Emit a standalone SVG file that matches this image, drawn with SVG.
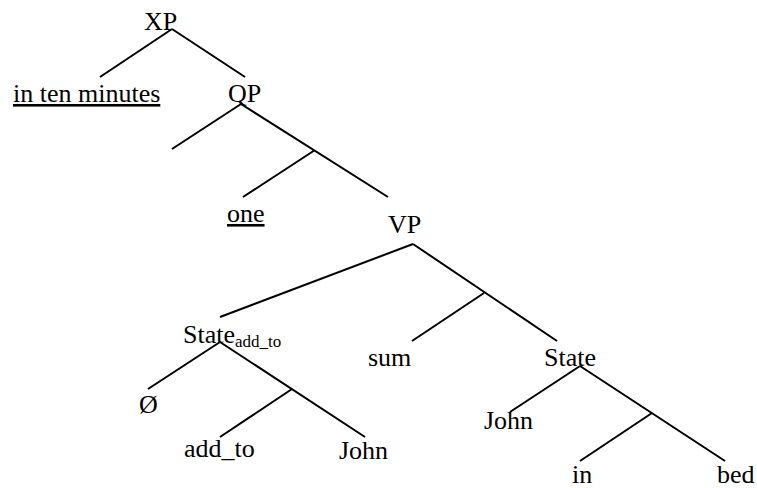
<svg xmlns="http://www.w3.org/2000/svg" width="757" height="488" viewBox="0 0 757 488">
<style>
text{font-size:26px;fill:#000}
.sub{font-size:17px}
.u{text-decoration:underline}
.e{stroke:#000;stroke-width:2;fill:none;stroke-linecap:butt}
</style>
<rect width="757" height="488" fill="#fff"/>
<g id="connectors">
<path class="e" d="M172 29L100 77M172 29L245 77"/>
<path class="e" d="M241 104L172 149M241 104L388 197M315 150L243 197"/>
<path class="e" d="M413 244L220 317M413 244L557 341M484 293L412 341"/>
<path class="e" d="M220 342L148 389M220 342L365 437M292 389L220 437"/>
<path class="e" d="M580 366L510 412M580 366L725 461M652 413L580 461"/>
</g>
<g font-family="Liberation Serif, Times New Roman, serif">
<g id="XP"><text x="144" y="30">XP</text></g>
<g id="in-ten-minutes"><text class="u" x="13" y="102">in ten minutes</text></g>
<g id="QP"><text x="228" y="102">QP</text></g>
<g id="one"><text class="u" x="227" y="222">one</text></g>
<g id="VP"><text x="388" y="233">VP</text></g>
<g id="State-add_to"><text x="183" y="343">State<tspan class="sub" dy="4">add_to</tspan></text></g>
<g id="sum"><text x="368" y="366">sum</text></g>
<g id="State"><text x="544" y="366">State</text></g>
<g id="empty"><text x="139" y="413">Ø</text></g>
<g id="add_to"><text x="184" y="457">add_to</text></g>
<g id="John1"><text x="339" y="459">John</text></g>
<g id="John2"><text x="484" y="429">John</text></g>
<g id="in"><text x="572" y="483">in</text></g>
<g id="bed"><text x="717" y="483">bed</text></g>
</g>
</svg>
